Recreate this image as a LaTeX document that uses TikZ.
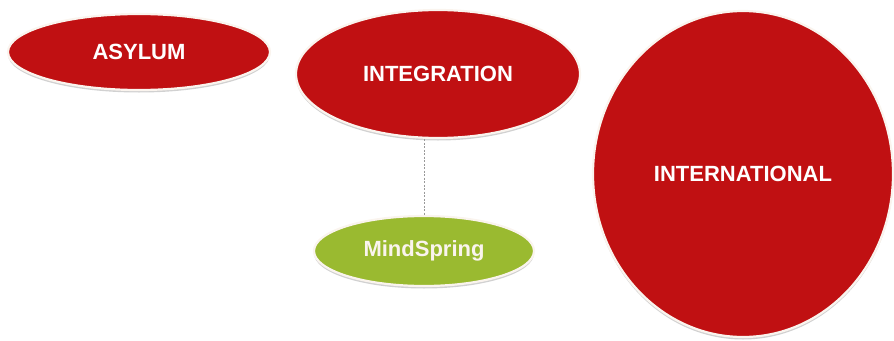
\documentclass[tikz,border=0pt]{standalone}
\usepackage{fontspec}
\setmainfont{Liberation Sans}
\usetikzlibrary{shapes.geometric,shadows}
\definecolor{bubblered}{RGB}{192,16,18}
\definecolor{bubblegreen}{RGB}{154,186,48}
\definecolor{rimwhite}{RGB}{250,244,238}
\tikzset{
  bubble/.style={ellipse, inner sep=0pt, draw=rimwhite, line width=2.2pt,
    text=white, font=\fontsize{22}{26}\selectfont\bfseries,
    drop shadow={shadow xshift=0pt, shadow yshift=-2.5pt, fill=black, opacity=0.18}},
  redbubble/.style={bubble, fill=bubblered},
  greenbubble/.style={bubble, fill=bubblegreen, text=rimwhite},
  link/.style={draw=gray!80, dashed, dash pattern=on 2pt off 1.5pt, line width=0.6pt}
}
\begin{document}
\begin{tikzpicture}[x=1pt,y=-1pt]
  \useasboundingbox (0,0) rectangle (894,340);
  \node[redbubble, minimum width=262pt, minimum height=76pt] (asylum) at (139,52) {ASYLUM};
  \node[redbubble, minimum width=284pt, minimum height=128pt] (integration) at (438,74) {INTEGRATION};
  \node[redbubble, minimum width=300pt, minimum height=326pt] (international) at (743,174) {INTERNATIONAL};
  \node[greenbubble, minimum width=220pt, minimum height=70pt] (mindspring) at (424,251) {MindSpring};
  \draw[link] (integration.south -| mindspring.north) -- (mindspring.north);
\end{tikzpicture}
\end{document}
